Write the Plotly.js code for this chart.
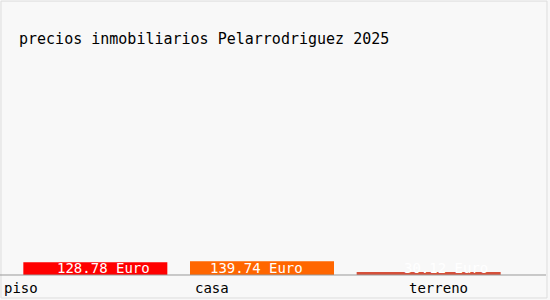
<!DOCTYPE html>
<html>
<head>
<meta charset="utf-8">
<script src="https://cdn.plot.ly/plotly-3.0.1.min.js"></script>
<style>html,body{margin:0;padding:0;background:#f8f8f8;}#chart{width:550px;height:300px;}</style>
</head>
<body>
<div id="chart"></div>
<script>
var categories = ["piso", "casa", "terreno"];
var prices = [128.78, 139.74, 30.12];
var barLabels = ["128.78 Euro", "139.74 Euro", "30.12 Euro"];
var barColors = ["#ff0000", "#ff6600", "#d5503a"];
var titleText = "precios inmobiliarios Pelarrodriguez 2025";

var font = "DejaVu Sans Mono, monospace";
var labelShift = [-93, -69, -22];
var valueShift = [8, -6, 17];

var annotations = [];
categories.forEach(function (c, i) {
  annotations.push({
    x: c, xref: "x", y: 0, yref: "paper", yanchor: "top", yshift: -3,
    xanchor: "left", xshift: labelShift[i], text: c, showarrow: false,
    font: {family: font, size: 14, color: "#000"}
  });
  annotations.push({
    x: c, xref: "x", y: 0, yref: "paper", yanchor: "middle", yshift: 7,
    xshift: valueShift[i], text: barLabels[i], showarrow: false,
    font: {family: font, size: 14, color: "#fff"}
  });
});
annotations.push({
  text: titleText, xref: "paper", x: 0.010, xanchor: "left",
  yref: "paper", y: 1, yanchor: "middle", yshift: 21, showarrow: false,
  font: {family: font, size: 15, color: "#000"}
});

var data = [{
  type: "bar", x: categories, y: prices,
  marker: {color: barColors}, width: 0.864, hoverinfo: "none"
}];

var layout = {
  width: 550, height: 300,
  margin: {l: 12, r: 38, t: 60, b: 25, pad: 0},
  paper_bgcolor: "#f8f8f8", plot_bgcolor: "#f8f8f8",
  showlegend: false, hovermode: false,
  xaxis: {type: "category", range: [-0.5, 2.5], showticklabels: false, showgrid: false, zeroline: false, showline: false, ticks: ""},
  yaxis: {range: [0, 2176], visible: false, fixedrange: true},
  annotations: annotations,
  shapes: [
    {type: "line", xref: "paper", yref: "paper", x0: -0.024, x1: 1.068, y0: 0, y1: 0,
     line: {color: "#999999", width: 1}},
    {type: "rect", xref: "paper", yref: "paper", x0: -0.022, x1: 1.07, y0: -0.107, y1: 1.274,
     line: {color: "#dddddd", width: 1}, fillcolor: "rgba(0,0,0,0)", layer: "below"}
  ]
};

Plotly.newPlot("chart", data, layout, {displayModeBar: false, staticPlot: true});
</script>
</body>
</html>
